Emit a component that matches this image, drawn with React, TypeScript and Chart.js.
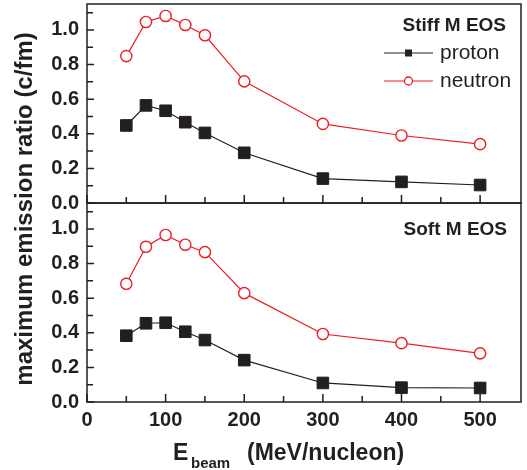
import React, { useEffect, useRef } from 'react';
import { Chart, registerables } from 'chart.js';

Chart.register(...registerables);

const energies = [50, 75, 100, 125, 150, 200, 300, 400, 500];
const stiffProton = [0.448, 0.564, 0.533, 0.467, 0.405, 0.29, 0.141, 0.122, 0.104];
const stiffNeutron = [0.849, 1.046, 1.081, 1.029, 0.969, 0.703, 0.457, 0.39, 0.34];
const softProton = [0.383, 0.455, 0.458, 0.406, 0.358, 0.242, 0.11, 0.083, 0.081];
const softNeutron = [0.683, 0.897, 0.965, 0.909, 0.866, 0.629, 0.393, 0.34, 0.281];
const xTickValues = [0, 100, 200, 300, 400, 500];
const xMinorTickValues = [50, 150, 250, 350, 450];
const yTickValues = [0, 0.2, 0.4, 0.6, 0.8, 1.0];
const yMinorTickValues = [0.1, 0.3, 0.5, 0.7, 0.9, 1.1];
const panelLabels = ['Stiff M EOS', 'Soft M EOS'];
const seriesNames = ['proton', 'neutron'];
const yTitle = 'maximum emission ratio (c/fm)';
const xTitleMain = 'E';
const xTitleSub = 'beam';
const xTitleUnit = '(MeV/nucleon)';

const INK = '#231f20';
const RED = '#ed1c24';
const FONT = '"Liberation Sans", Arial, Helvetica, sans-serif';

const pts = (ys: number[]) => energies.map((x, i) => ({ x, y: ys[i] }));

const protonStyle = {
  borderColor: INK,
  backgroundColor: INK,
  borderWidth: 1.2,
  pointStyle: 'rect',
  pointRadius: 8.2,
  pointBorderWidth: 1,
  pointBackgroundColor: INK,
  pointBorderColor: INK,
};
const neutronStyle = {
  borderColor: RED,
  backgroundColor: '#ffffff',
  borderWidth: 1.2,
  pointStyle: 'circle',
  pointRadius: 5.6,
  pointBorderWidth: 1.4,
  pointBackgroundColor: '#ffffff',
  pointBorderColor: RED,
};

const decor = {
  id: 'decor',
  beforeDatasetsDraw(chart: any) {
    const ctx = chart.ctx;
    const x = chart.scales.x;
    const panels = [chart.scales.yTop, chart.scales.yBot];
    ctx.save();
    ctx.strokeStyle = INK;
    ctx.lineWidth = 1.5;
    for (const ys of panels) {
      ctx.strokeRect(x.left, ys.top, x.right - x.left, ys.bottom - ys.top);
      ctx.beginPath();
      for (const v of xTickValues) {
        const px = x.getPixelForValue(v);
        ctx.moveTo(px, ys.bottom);
        ctx.lineTo(px, ys.bottom - 8);
      }
      for (const v of xMinorTickValues) {
        const px = x.getPixelForValue(v);
        ctx.moveTo(px, ys.bottom);
        ctx.lineTo(px, ys.bottom - 6);
      }
      for (const v of yTickValues) {
        const py = ys.getPixelForValue(v);
        ctx.moveTo(x.left, py);
        ctx.lineTo(x.left + 7, py);
      }
      for (const v of yMinorTickValues) {
        const py = ys.getPixelForValue(v);
        ctx.moveTo(x.left, py);
        ctx.lineTo(x.left + 6, py);
      }
      ctx.stroke();
    }
    ctx.restore();
  },
  afterDraw(chart: any) {
    const ctx = chart.ctx;
    const x = chart.scales.x;
    const yT = chart.scales.yTop;
    const yB = chart.scales.yBot;
    ctx.save();
    ctx.fillStyle = INK;
    // panel labels
    ctx.font = `bold 19px ${FONT}`;
    ctx.textAlign = 'right';
    ctx.textBaseline = 'alphabetic';
    ctx.fillText(panelLabels[0], x.right - 15, yT.top + 27);
    ctx.fillText(panelLabels[1], x.right - 14, yB.top + 32);

    // legend
    const lx0 = x.right - 137;
    const lx1 = x.right - 88;
    const mx = (lx0 + lx1) / 2;
    const rows = [yT.top + 49, yT.top + 77];
    const colors = [INK, RED];
    ctx.lineWidth = 1.2;
    rows.forEach((ry, i) => {
      ctx.strokeStyle = colors[i];
      ctx.beginPath();
      ctx.moveTo(lx0, ry);
      ctx.lineTo(lx1, ry);
      ctx.stroke();
      if (i === 0) {
        ctx.fillStyle = INK;
        ctx.fillRect(mx - 3.5, ry - 3.5, 7, 7);
      } else {
        ctx.fillStyle = '#ffffff';
        ctx.beginPath();
        ctx.arc(mx, ry, 4, 0, Math.PI * 2);
        ctx.fill();
        ctx.lineWidth = 1.3;
        ctx.stroke();
      }
      ctx.fillStyle = INK;
      ctx.font = `21px ${FONT}`;
      ctx.textAlign = 'left';
      ctx.textBaseline = 'middle';
      ctx.fillText(seriesNames[i], x.right - 81, ry);
    });

    // y title
    ctx.save();
    ctx.translate(32, (yT.top + yB.bottom) / 2 + 6);
    ctx.rotate(-Math.PI / 2);
    ctx.font = `bold 24px ${FONT}`;
    ctx.textAlign = 'center';
    ctx.textBaseline = 'alphabetic';
    ctx.fillStyle = INK;
    ctx.fillText(yTitle, 0, 0);
    ctx.restore();

    // x title
    ctx.fillStyle = INK;
    ctx.textAlign = 'left';
    ctx.textBaseline = 'alphabetic';
    ctx.font = `bold 23px ${FONT}`;
    ctx.fillText(xTitleMain, 173, 460);
    ctx.font = `bold 15px ${FONT}`;
    ctx.fillText(xTitleSub, 191, 468);
    ctx.font = `bold 23px ${FONT}`;
    ctx.fillText(xTitleUnit, 247, 460);
    ctx.restore();
  },
};

const yAxis = (weight: number) => ({
  type: 'linear',
  position: 'left',
  stack: 'panels',
  stackWeight: 1,
  weight,
  min: 0,
  max: 1.15,
  offset: false,
  grid: { display: false, drawTicks: false },
  border: { display: false },
  afterBuildTicks: (s: any) => {
    s.ticks = yTickValues.map((v) => ({ value: v }));
  },
  afterFit: (s: any) => {
    s.width = 87;
    s.paddingTop = 0;
    s.paddingBottom = 0;
  },
  ticks: {
    color: INK,
    padding: 8,
    autoSkip: false,
    font: { family: FONT, size: 20, weight: 'bold' },
    callback: (v: any) => Number(v).toFixed(1),
  },
});

export default function App() {
  const ref = useRef<HTMLCanvasElement | null>(null);
  useEffect(() => {
    if (!ref.current) return;
    const chart = new Chart(ref.current, {
      type: 'line',
      data: {
        datasets: [
          { label: 'stiff proton', data: pts(stiffProton), yAxisID: 'yTop', ...protonStyle },
          { label: 'stiff neutron', data: pts(stiffNeutron), yAxisID: 'yTop', ...neutronStyle },
          { label: 'soft proton', data: pts(softProton), yAxisID: 'yBot', ...protonStyle },
          { label: 'soft neutron', data: pts(softNeutron), yAxisID: 'yBot', ...neutronStyle },
        ] as any,
      },
      options: {
        animation: false,
        responsive: true,
        maintainAspectRatio: false,
        layout: { autoPadding: false, padding: { top: 4, right: 6, left: 0, bottom: 0 } },
        plugins: { legend: { display: false }, tooltip: { enabled: false } },
        elements: { line: { tension: 0 } },
        datasets: { line: { clip: false } } as any,
        scales: {
          x: {
            type: 'linear',
            position: 'bottom',
            min: 0,
            max: 552,
            grid: { display: false, drawTicks: false },
            border: { display: false },
            afterBuildTicks: (s: any) => {
              s.ticks = xTickValues.map((v) => ({ value: v }));
            },
            afterFit: (s: any) => {
              s.height = 68;
              s.paddingLeft = 0;
              s.paddingRight = 0;
            },
            ticks: {
              color: INK,
              padding: 6,
              maxRotation: 0,
              autoSkip: false,
              font: { family: FONT, size: 20, weight: 'bold' },
              callback: (v: any) => String(v),
            },
          },
          yTop: yAxis(2),
          yBot: yAxis(1),
        } as any,
      },
      plugins: [decor],
    });
    return () => chart.destroy();
  }, []);
  return (
    <div style={{ position: 'fixed', left: 0, top: 0, width: 527, height: 470, background: '#fff' }}>
      <canvas ref={ref} />
    </div>
  );
}
